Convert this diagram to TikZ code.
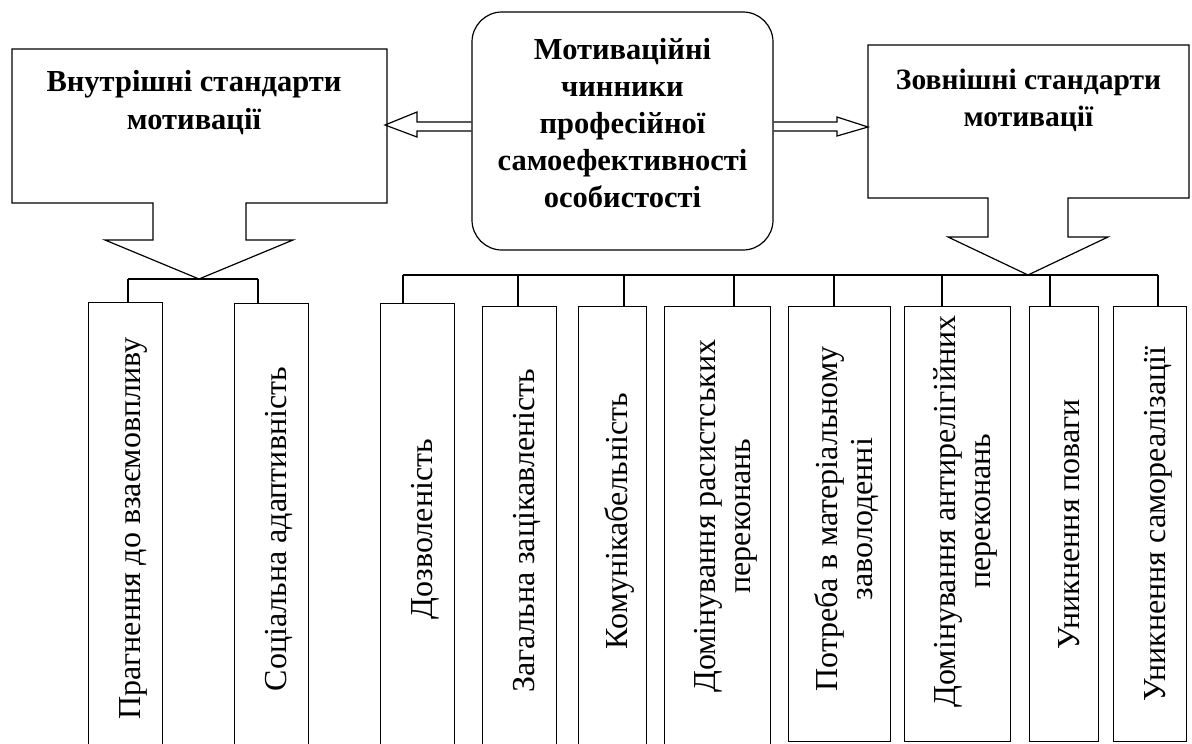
\documentclass[tikz,border=0pt]{standalone}
\usepackage{fontspec}
\setmainfont{Liberation Serif}
\usetikzlibrary{positioning,calc}

\tikzset{
  frame/.style={draw,line width=1.2pt},
  item/.style={frame,anchor=north west,inner sep=0pt,font=\fontsize{32}{35}\selectfont},
  head/.style={font=\bfseries\fontsize{30.5}{38}\selectfont,align=center},
}
% rotated label, optional lift along the box
\newcommand{\upright}[2][0pt]{\hspace*{16pt}\rotatebox{90}{\hspace*{#1}\begin{tabular}{@{}c@{}}#2\end{tabular}}}

\begin{document}
\begin{tikzpicture}[x=1pt,y=-1pt]
  \clip (0,0) rectangle (1192,744);
  % centre box
  \node[frame,rounded corners=30,minimum width=301,minimum height=238] (core) at (622.5,131) {};
  \node[head,font=\bfseries\fontsize{30.5}{37}\selectfont] (coretext) at (622.5,123) {Мотиваційні\\чинники\\професійної\\самоефективності\\особистості};
  % callouts
  \draw[frame] (12,49)--(387,49)--(387,203)--(246,203)--(246,240)--(293,240)--(199,279)--(105,240)--(153,240)--(153,203)--(12,203)--cycle;
  \node[head] (inner) at (194,103) {Внутрішні стандарти\\мотивації};
  \draw[frame] (868,45)--(1189,45)--(1189,198)--(1068,198)--(1068,237)--(1108,237)--(1028,275)--(948,237)--(988,237)--(988,198)--(868,198)--cycle;
  \node[head,font=\bfseries\fontsize{29.5}{37}\selectfont] (outer) at (1028.5,100) {Зовнішні стандарти\\мотивації};
  \coordinate (ltip) at (199,279);
  \coordinate (rtip) at (1028,275);
  % block arrows
  \draw[frame] (core.west |- 0,122)--(417,122)--(417,112)--(385,125)--(417,137)--(417,131)--(core.west |- 0,131);
  \draw[frame] (core.east |- 0,122)--(837,122)--(837,117)--(868,127)--(837,136)--(837,131)--(core.east |- 0,131);
  % factors
  \node[item,minimum width=74,minimum height=472] (b1) at (88,302) {\upright[20pt]{Прагнення до взаємовпливу}};
  \node[item,minimum width=74,minimum height=471] (b2) at (234,303) {\upright[20pt]{Соціальна адаптивність}};
  \node[item,minimum width=74,minimum height=471] (b3) at (380,303) {\upright[20pt]{Дозволеність}};
  \node[item,minimum width=74,minimum height=468] (b4) at (482,306) {\upright[20pt]{Загальна зацікавленість}};
  \node[item,minimum width=68,minimum height=439] (b5) at (578,306) {\upright[10pt]{Комунікабельність}};
  \node[item,minimum width=106,minimum height=439] (b6) at (664,306) {\upright[20pt]{Домінування расистських\\переконань}};
  \node[item,minimum width=102,minimum height=435] (b7) at (788,306) {\upright[10pt]{Потреба в матеріальному\\заволоденні}};
  \node[item,minimum width=106,minimum height=435] (b8) at (904,306) {\upright[26pt]{Домінування антирелігійних\\переконань}};
  \node[item,minimum width=69,minimum height=435] (b9) at (1029,306) {\upright{Уникнення поваги}};
  \node[item,minimum width=73,minimum height=435] (b10) at (1113,306) {\upright{Уникнення самореалізації}};
  % brackets
  \draw[frame] (128,279)--(258,279);
  \draw[frame] (403,275)--(1158,275);
  \foreach \x/\b in {128/b1,258/b2} \draw[frame] (\x,279)--(\x,279 |- \b.north);
  \foreach \x/\b in {403/b3,518/b4,624/b5,734/b6,834/b7,942/b8,1050/b9,1158/b10} \draw[frame] (\x,275)--(\x,275 |- \b.north);
\end{tikzpicture}
\end{document}
